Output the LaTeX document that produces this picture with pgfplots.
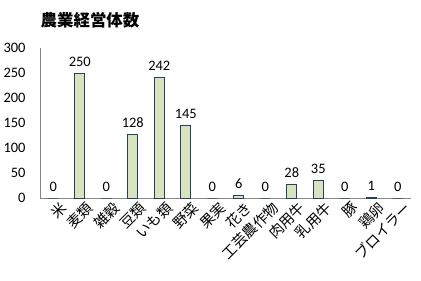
\documentclass[border=0pt]{standalone}
\usepackage{pgfplots}
\pgfplotsset{compat=1.18}
\usepackage{fontspec}
\setmainfont{Carlito}
\newfontfamily\cjk{Noto Sans CJK JP}
\definecolor{barfill}{HTML}{D7E4BD}
\definecolor{baredge}{HTML}{254061}
\definecolor{axgray}{HTML}{868686}
\begin{document}
\begin{tikzpicture}
\useasboundingbox (0,0) rectangle (421bp,281bp);
\node[font=\cjk\bfseries\fontsize{16.5}{19}\selectfont, anchor=center] at (90bp,261bp) {農業経営体数};
\begin{axis}[
  at={(40bp,83bp)}, anchor=south west,
  scale only axis, width=371bp, height=150bp,
  xmin=-0.5, xmax=13.5, ymin=0, ymax=300,
  ytick={0,50,...,300},
  xtick={0,...,13},
  xticklabels={米,麦類,雑穀,豆類,いも類,野菜,果実,花き,工芸農作物,肉用牛,乳用牛,豚,鶏卵,ブロイラー},
  axis x line*=bottom, axis y line*=left,
  axis line style={draw=axgray, -},
  major tick length=0pt,
  ybar, bar width=10bp,
  nodes near coords,
  every node near coord/.append style={font=\fontsize{14.5}{16}\selectfont, black, yshift=3bp},
  yticklabel style={font=\fontsize{14.5}{16}\selectfont, xshift=-11bp},
  xticklabel style={font=\cjk\fontsize{14.5}{16}\selectfont, rotate=45, anchor=north east, inner sep=0.5bp, yshift=-5bp, xshift=3bp},
  /pgf/number format/assume math mode=true,
  clip=false,
]
\addplot[fill=barfill, draw=baredge, line width=0.9bp] coordinates {
(0,0) (1,250) (2,0) (3,128) (4,242) (5,145) (6,0) (7,6) (8,0) (9,28) (10,35) (11,0) (12,1) (13,0)};
\end{axis}
\end{tikzpicture}
\end{document}
